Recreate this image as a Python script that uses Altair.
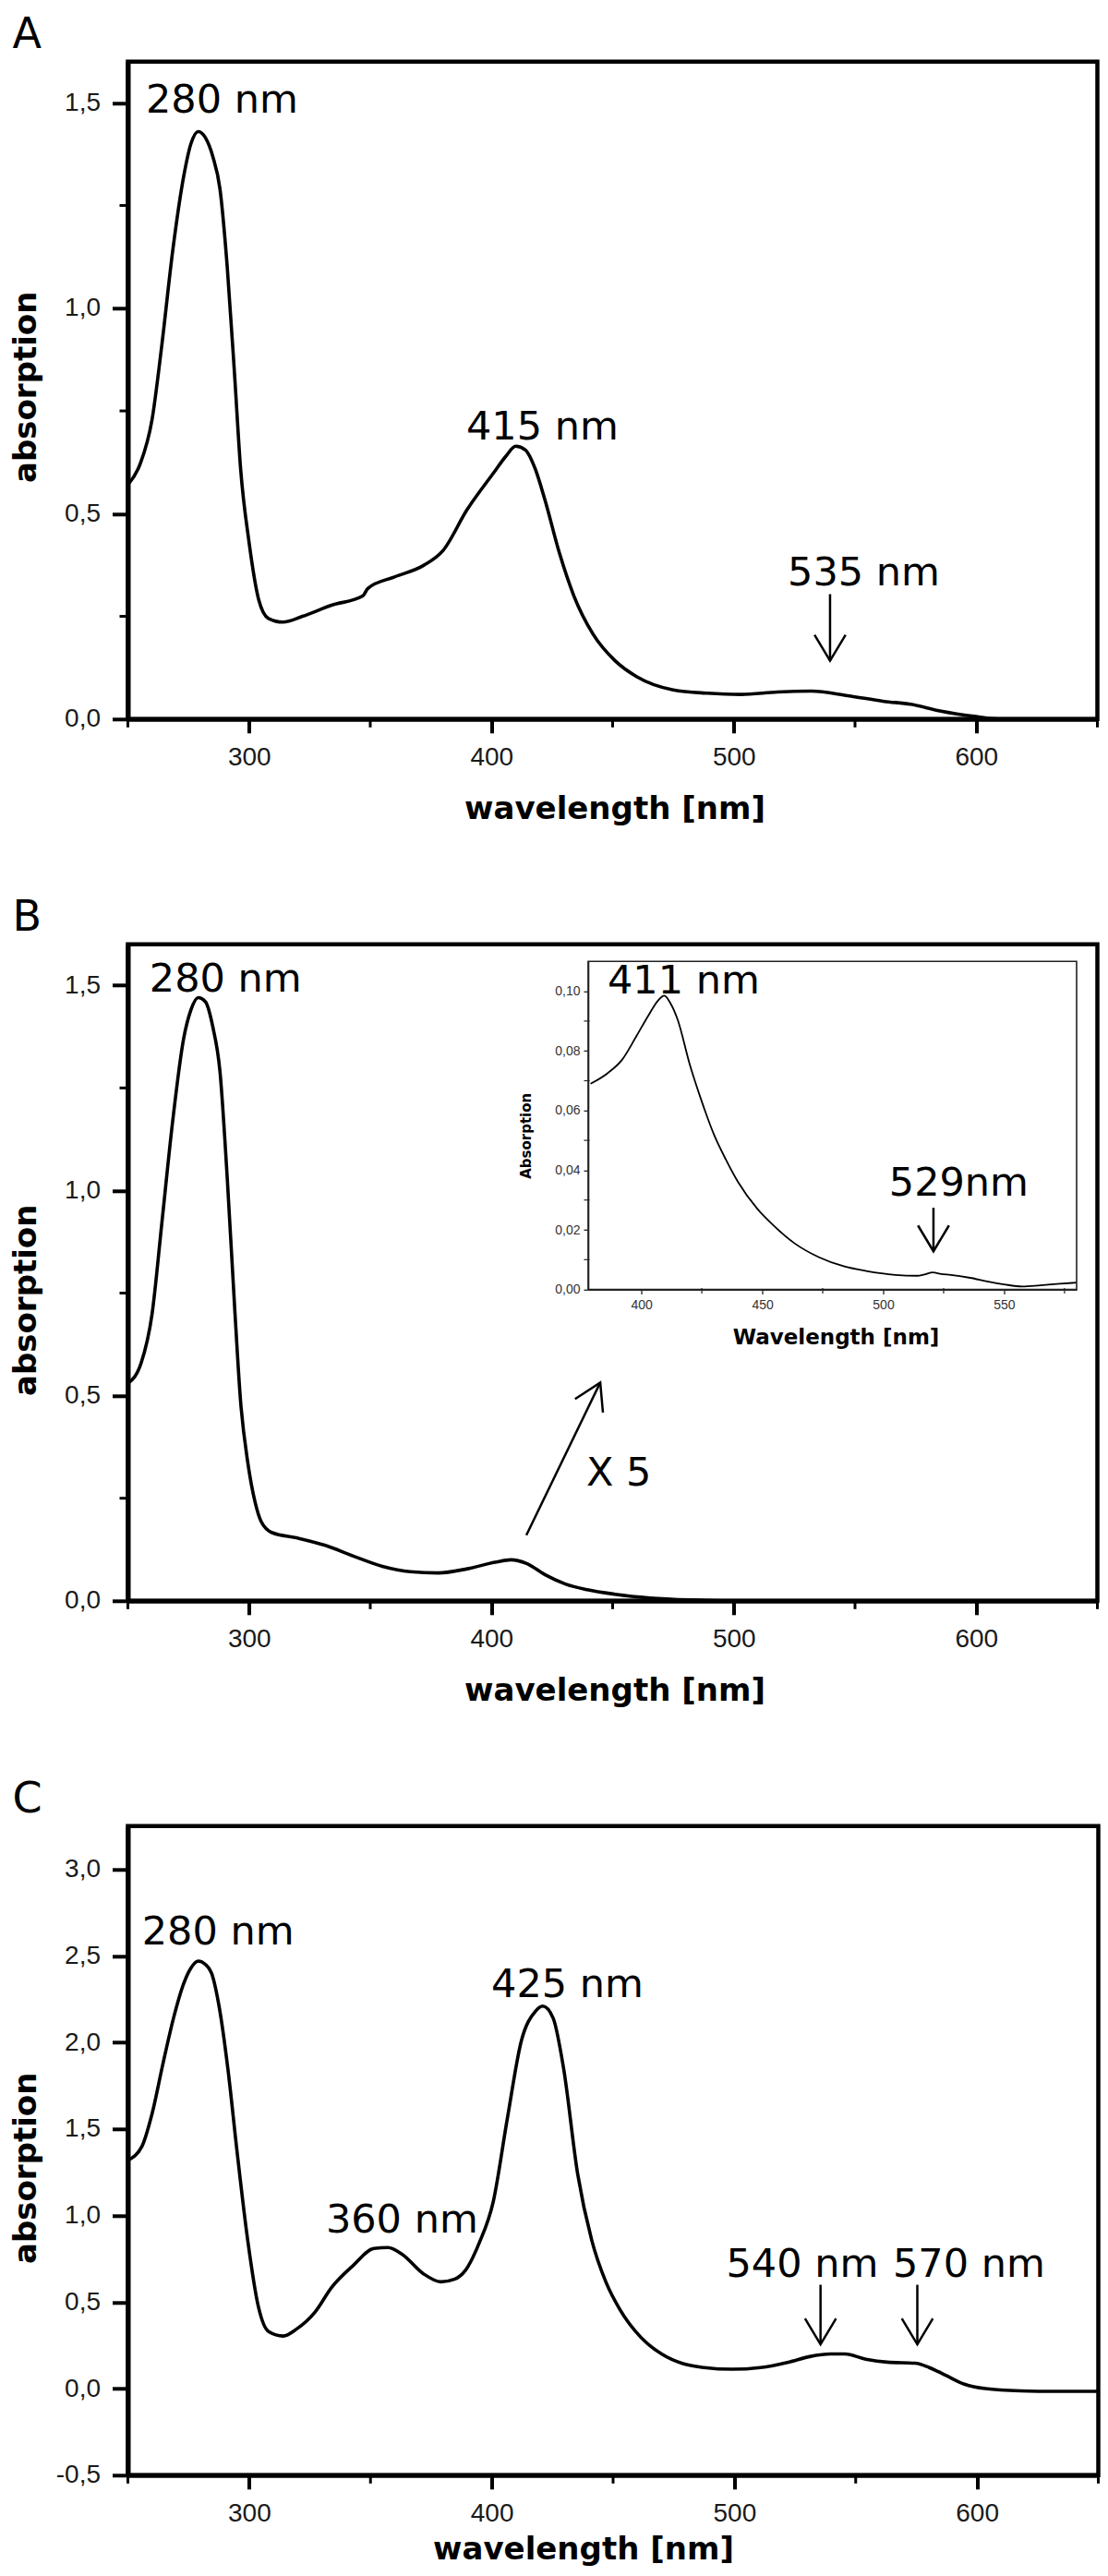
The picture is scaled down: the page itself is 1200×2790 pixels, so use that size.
import altair as alt
import pandas as pd

# ---------------- data ----------------
A_wl = [250, 255, 260, 264, 268.5, 273, 276, 279, 282, 285, 288, 291, 294, 296.5, 300, 304, 308, 314, 322, 334,
        347, 349, 360, 372, 380, 390, 401, 406, 410, 414, 418, 422, 428, 434, 442, 451, 460, 475, 489, 503,
        518, 532, 547, 562, 573, 585, 600, 609, 650]
A_abs = [0.57, 0.62, 0.73, 0.91, 1.14, 1.32, 1.40, 1.43, 1.415, 1.37, 1.29, 1.10, 0.84, 0.61, 0.43, 0.29, 0.245, 0.236, 0.25, 0.277,
         0.30, 0.318, 0.346, 0.374, 0.41, 0.51, 0.60, 0.64, 0.664, 0.655, 0.61, 0.535, 0.405, 0.30, 0.206, 0.142, 0.103, 0.071, 0.063, 0.06,
         0.066, 0.068, 0.057, 0.043, 0.036, 0.02, 0.006, 0.0, 0.0]

B_wl = [250, 255.5, 260, 264, 268.5, 273, 276, 279, 282, 285, 288, 291, 294, 296.5, 299.5, 302.5, 305, 309.5, 320, 331.5,
        343, 355, 366.5, 378, 390, 401.5, 408, 414.5, 422, 430.5, 439.5, 451, 465.5, 483, 500, 650]
B_abs = [0.53, 0.58, 0.70, 0.92, 1.17, 1.37, 1.44, 1.47, 1.46, 1.40, 1.29, 1.03, 0.72, 0.486, 0.336, 0.24, 0.193, 0.166, 0.153, 0.135,
         0.109, 0.084, 0.071, 0.068, 0.078, 0.094, 0.10, 0.091, 0.064, 0.041, 0.027, 0.016, 0.007, 0.002, 0.0, 0.0]

I_wl = [379, 386, 392, 398, 403, 407, 409.5, 412, 415, 420, 425, 430, 435, 440, 448, 454.5, 463.5, 473.5, 484, 493,
        505, 514, 517, 520.5, 524, 528, 536, 543.5, 550, 557.5, 565, 573, 580]
I_abs = [0.069, 0.0725, 0.077, 0.085, 0.092, 0.097, 0.0985, 0.096, 0.0905, 0.0755, 0.063, 0.052, 0.0435, 0.036, 0.027, 0.0216,
         0.0154, 0.0108, 0.0077, 0.0062, 0.0049, 0.0046, 0.0050, 0.0057, 0.0052, 0.0049, 0.0039, 0.0026, 0.0017, 0.0010,
         0.0014, 0.0019, 0.0023]

C_wl = [250, 255.8, 260, 264.5, 268.8, 273, 276, 279, 282, 284.5, 287.7, 291.2, 295, 299.4, 303.8, 308, 314, 319.6, 327, 334,
        343, 351.4, 357.2, 363, 371.7, 379, 384.8, 389, 394.8, 400.6, 406.4, 412.2, 418, 421, 425.3, 429.6, 435.4, 441.2, 447, 452.8,
        461.4, 470, 478.8, 487.5, 499, 510.7, 522.3, 531, 539.7, 545.5, 554.2, 563, 574.5, 580.3, 587.5, 594.8, 603.5, 618, 632.5, 650]
C_abs = [1.32, 1.40, 1.59, 1.88, 2.14, 2.34, 2.43, 2.47, 2.45, 2.40, 2.20, 1.85, 1.37, 0.857, 0.473, 0.33, 0.304, 0.345, 0.44, 0.585,
         0.713, 0.81, 0.815, 0.777, 0.665, 0.617, 0.633, 0.681, 0.841, 1.08, 1.56, 2.01, 2.18, 2.21, 2.14, 1.85, 1.24, 0.857, 0.617, 0.457,
         0.297, 0.20, 0.144, 0.122, 0.112, 0.122, 0.153, 0.185, 0.20, 0.20, 0.17, 0.153, 0.147, 0.122, 0.074, 0.026, 0.0, -0.013, -0.016, -0.016]

# tick values
X_MAJOR = [300, 400, 500, 600]
X_MINOR = [250, 350, 450, 550, 650]
AB_Y_MAJOR = [0, 0.5, 1.0, 1.5]
AB_Y_MINOR = [0.25, 0.75, 1.25]
C_Y_MAJOR = [-0.5, 0, 0.5, 1.0, 1.5, 2.0, 2.5, 3.0]
I_X_MAJOR = [400, 450, 500, 550]
I_X_MINOR = [425, 475, 525, 575]
I_Y_MAJOR = [0, 0.02, 0.04, 0.06, 0.08, 0.10]
I_Y_MINOR = [0.01, 0.03, 0.05, 0.07, 0.09]

# annotations (data units)
A_lab_t = ["280 nm", "415 nm", "535 nm"]
A_lab_x = [257.4, 389.6, 522.2]
A_lab_y = [1.476, 0.68, 0.3245]
A_arr_x = [539.7]
A_arr_y1 = [0.304]
A_arr_y2 = [0.142]

B_lab_t = ["280 nm", "X 5"]
B_lab_x = [258.9, 439.1]
B_lab_y = [1.485, 0.28]
B_diag_x1, B_diag_y1, B_diag_x2, B_diag_y2 = [414.4], [0.160], [444.9], [0.532]

I_lab_t = ["411 nm", "529nm"]
I_lab_x = [386.0, 502.4]
I_lab_y = [0.0993, 0.0314]
I_arr_x = [520.8]
I_arr_y1 = [0.0274]
I_arr_y2 = [0.0128]

C_lab_t = ["280 nm", "425 nm", "360 nm", "540 nm", "570 nm"]
C_lab_x = [255.8, 399.8, 331.6, 496.6, 565.3]
C_lab_y = [2.565, 2.262, 0.903, 0.648, 0.648]
C_arr_x = [535.5, 575.4]
C_arr_y1 = [0.60, 0.60]
C_arr_y2 = [0.256, 0.256]

# ---------------- styling ----------------
ANNF = "DejaVu Sans"
TICKF = "Liberation Sans"
ANN_SIZE = 43
TITLE_SIZE = 34
TICK_SIZE = 28
CHEV = "M -0.6 1 L 0 0 L 0.6 1"
HEAD_SIZE = 3136

W_AB, H_A, H_B = 1050, 712, 711
W_C, H_C = 1051, 703
GAP = 244
PAD_L, PAD_T = 130.5, 58.8
PAGE_W, PAGE_H = 1184, 2774
YTITLE_X = -100


def comma_expr(d):
    return f"(datum.value < 0 ? '-' : '') + replace(format(abs(datum.value), '.{d}f'), '.', ',')"


def nx(f="wl"):
    return alt.X(f"{f}:Q")


def ny(f="a"):
    return alt.Y(f"{f}:Q")


def main_layers(letter, wl, ab, ydom, ymajor, yminor, H, ytx, yty, xtx, xty,
                lab_t, lab_x, lab_y, arr_x, arr_y1, arr_y2):
    xaxis = alt.Axis(values=X_MAJOR, format="d", tickSize=15, tickWidth=4, tickColor="black",
                     labelFont=TICKF, labelFontSize=TICK_SIZE, labelColor="#1a1a1a", labelPadding=13,
                     domainColor="black", domainWidth=5, grid=False,
                     title="wavelength [nm]", titleFont=ANNF, titleFontSize=TITLE_SIZE, titleFontWeight="bold",
                     titleColor="black", titleX=xtx, titleY=xty, titleBaseline="alphabetic", titleAlign="center")
    yaxis = alt.Axis(values=ymajor, labelExpr=comma_expr(1), tickSize=17, tickWidth=4, tickColor="black",
                     labelFont=TICKF, labelFontSize=TICK_SIZE, labelColor="#1a1a1a", labelPadding=13,
                     domainColor="black", domainWidth=5, grid=False,
                     title="absorption", titleFont=ANNF, titleFontSize=TITLE_SIZE, titleFontWeight="bold",
                     titleColor="black", titleX=ytx, titleY=yty, titleAngle=270, titleBaseline="alphabetic",
                     titleAlign="center")
    line = alt.Chart(pd.DataFrame({"wl": wl, "a": ab})).mark_line(
        color="black", strokeWidth=3.6, interpolate="monotone").encode(
        x=alt.X("wl:Q", scale=alt.Scale(domain=[250, 650], nice=False, zero=False), axis=xaxis),
        y=alt.Y("a:Q", scale=alt.Scale(domain=ydom, nice=False, zero=False), axis=yaxis))
    layers = [line]
    mx = alt.Chart(pd.DataFrame({"wl": X_MINOR, "a": [ydom[0]] * len(X_MINOR)})).mark_tick(
        orient="vertical", size=9, thickness=3, yOffset=4.5, color="black", opacity=1).encode(
        x=nx(), y=ny())
    layers.append(mx)
    if yminor:
        my = alt.Chart(pd.DataFrame({"a": yminor, "wl": [250] * len(yminor)})).mark_tick(
            orient="horizontal", size=9, thickness=3, xOffset=-4.5, color="black", opacity=1).encode(
            y=ny(), x=nx())
        layers.append(my)
    txt = alt.Chart(pd.DataFrame({"wl": lab_x, "a": lab_y, "t": lab_t})).mark_text(
        font=ANNF, fontSize=ANN_SIZE, align="left", baseline="alphabetic", color="black").encode(
        x=nx(), y=ny(), text="t:N")
    layers.append(txt)
    if arr_x:
        adf = pd.DataFrame({"wl": arr_x, "a": arr_y1, "wl2": arr_x, "a2": arr_y2})
        shaft = alt.Chart(adf).mark_rule(color="black", strokeWidth=2.5).encode(
            x=nx(), y=ny(), x2="wl2:Q", y2="a2:Q")
        head = alt.Chart(adf).mark_point(shape=CHEV, size=HEAD_SIZE, filled=False, strokeWidth=2.5,
                                         color="black", opacity=1, angle=180).encode(x=nx("wl2"), y=ny("a2"))
        layers += [shaft, head]
    ldf = pd.DataFrame({"t": [letter]})
    letter_mark = alt.Chart(ldf).mark_text(font=ANNF, fontSize=46, align="left", baseline="alphabetic",
                                           color="black").encode(
        x=alt.value(-125), y=alt.value(-15), text="t:N")
    layers.append(letter_mark)
    return layers


# ---------------- panel A ----------------
A = alt.layer(*main_layers("A", A_wl, A_abs, [0, 1.6], AB_Y_MAJOR, AB_Y_MINOR, H_A, YTITLE_X, 352, 527, 108,
                           A_lab_t, A_lab_x, A_lab_y, A_arr_x, A_arr_y1, A_arr_y2)
              ).properties(width=W_AB, height=H_A)

# ---------------- panel B ----------------
B_main_layers = main_layers("B", B_wl, B_abs, [0, 1.6], AB_Y_MAJOR, AB_Y_MINOR, H_B, YTITLE_X, 385, 527, 108,
                            B_lab_t, B_lab_x, B_lab_y, [], [], [])
ddf = pd.DataFrame({"wl": B_diag_x1, "a": B_diag_y1, "wl2": B_diag_x2, "a2": B_diag_y2})
B_main_layers.append(alt.Chart(ddf).mark_rule(color="black", strokeWidth=2.5).encode(
    x=nx(), y=ny(), x2="wl2:Q", y2="a2:Q"))
B_main_layers.append(alt.Chart(ddf).mark_point(shape=CHEV, size=HEAD_SIZE, filled=False, strokeWidth=2.5,
                                               color="black", opacity=1, angle=25.9).encode(x=nx("wl2"), y=ny("a2")))
B_main = alt.layer(*B_main_layers)

I_X0, I_X1, I_YB, I_YT = 498.5, 1027.5, 373.8, 18.5
ixaxis = alt.Axis(orient="bottom", offset=-(H_B - I_YB), values=I_X_MAJOR, format="d", tickSize=5, tickWidth=1.3,
                  tickColor="#222", labelFont=TICKF, labelFontSize=14, labelColor="#333", labelPadding=5,
                  domainColor="#222", domainWidth=1.6, grid=False,
                  title="Wavelength [nm]", titleFont=ANNF, titleFontSize=23, titleFontWeight="bold",
                  titleColor="black", titleX=766.5, titleY=59, titleBaseline="alphabetic", titleAlign="center")
iyaxis = alt.Axis(orient="left", offset=-I_X0, values=I_Y_MAJOR, labelExpr=comma_expr(2), tickSize=5, tickWidth=1.3,
                  tickColor="#222", labelFont=TICKF, labelFontSize=14, labelColor="#333", labelPadding=4,
                  domainColor="#222", domainWidth=1.6, grid=False,
                  title="Absorption", titleFont=ANNF, titleFontSize=15, titleFontWeight="bold",
                  titleColor="black", titleX=-63, titleY=207, titleAngle=270, titleBaseline="alphabetic",
                  titleAlign="center")
iline = alt.Chart(pd.DataFrame({"iwl": I_wl, "ia": I_abs})).mark_line(
    color="black", strokeWidth=1.8, interpolate="monotone").encode(
    x=alt.X("iwl:Q", scale=alt.Scale(domain=[378, 580], range=[I_X0, I_X1], nice=False, zero=False), axis=ixaxis),
    y=alt.Y("ia:Q", scale=alt.Scale(domain=[0, 0.11], range=[I_YB, I_YT], nice=False, zero=False), axis=iyaxis))
iframe = alt.Chart(pd.DataFrame({"iwl": [378], "iwl2": [580], "ia": [0], "ia2": [0.11]})).mark_rect(
    fillOpacity=0, stroke="#222", strokeWidth=1.6).encode(
    x=nx("iwl"), x2="iwl2:Q", y=ny("ia"), y2="ia2:Q")
imx = alt.Chart(pd.DataFrame({"iwl": I_X_MINOR, "ia": [0] * len(I_X_MINOR)})).mark_tick(
    orient="vertical", size=6, thickness=1.2, yOffset=1.5, color="#222", opacity=1).encode(
    x=nx("iwl"), y=ny("ia"))
imy = alt.Chart(pd.DataFrame({"ia": I_Y_MINOR, "iwl": [378] * len(I_Y_MINOR)})).mark_tick(
    orient="horizontal", size=6, thickness=1.2, xOffset=-1.5, color="#222", opacity=1).encode(
    y=ny("ia"), x=nx("iwl"))
itxt = alt.Chart(pd.DataFrame({"iwl": I_lab_x, "ia": I_lab_y, "t": I_lab_t})).mark_text(
    font=ANNF, fontSize=ANN_SIZE, align="left", baseline="alphabetic", color="black").encode(
    x=nx("iwl"), y=ny("ia"), text="t:N")
iadf = pd.DataFrame({"iwl": I_arr_x, "ia": I_arr_y1, "iwl2": I_arr_x, "ia2": I_arr_y2})
ishaft = alt.Chart(iadf).mark_rule(color="black", strokeWidth=2.5).encode(
    x=nx("iwl"), y=ny("ia"), x2="iwl2:Q", y2="ia2:Q")
ihead = alt.Chart(iadf).mark_point(shape=CHEV, size=HEAD_SIZE, filled=False, strokeWidth=2.5,
                                   color="black", opacity=1, angle=180).encode(x=nx("iwl2"), y=ny("ia2"))
B_inset = alt.layer(iline, iframe, imx, imy, itxt, ishaft, ihead)

B = alt.layer(B_main, B_inset).resolve_scale(x="independent", y="independent").properties(width=W_AB, height=H_B)

# ---------------- panel C ----------------
C = alt.layer(*main_layers("C", C_wl, C_abs, [-0.5, 3.25], C_Y_MAJOR, [], H_C, YTITLE_X, 370, 493, 91,
                           C_lab_t, C_lab_x, C_lab_y, C_arr_x, C_arr_y1, C_arr_y2)
              ).properties(width=W_C, height=H_C)

chart = alt.vconcat(A, B, C, spacing=GAP, bounds="flush").properties(
    autosize=alt.AutoSizeParams(type="none"),
    padding={"left": PAD_L, "top": PAD_T, "right": PAGE_W - PAD_L, "bottom": PAGE_H - PAD_T},
    background="white").configure_view(stroke="black", strokeWidth=4.5)

chart.save("out.html", embed_options={"renderer": "svg", "actions": False})
